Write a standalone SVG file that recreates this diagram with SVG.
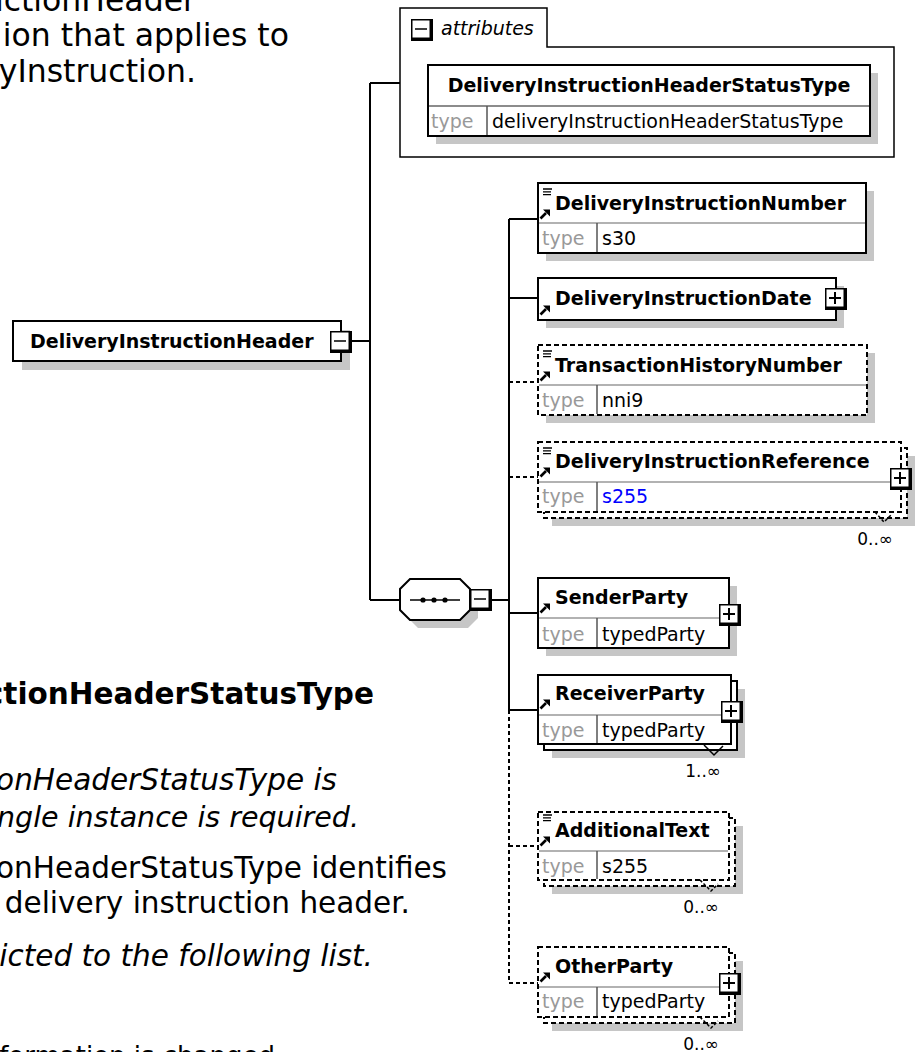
<svg xmlns="http://www.w3.org/2000/svg" xmlns:xlink="http://www.w3.org/1999/xlink" width="917" height="1052" viewBox="0 0 917 1052">
<defs>
<style>
.doc{font-family:"DejaVu Sans",Verdana,sans-serif;font-size:29.5px;fill:#000}
.top{font-size:31.5px}
.b{font-weight:bold}
.i{font-style:italic}
.t{font-family:"DejaVu Sans",Tahoma,sans-serif;font-size:19px;fill:#000}
.tb{font-family:"DejaVu Sans",Tahoma,sans-serif;font-size:19px;font-weight:bold;fill:#000}
.ti{font-family:"DejaVu Sans",Tahoma,sans-serif;font-size:19px;font-style:italic;fill:#000}
.ty{font-family:"DejaVu Sans",Tahoma,sans-serif;font-size:19px;fill:#999}
.occ{font-family:"DejaVu Sans",Tahoma,sans-serif;font-size:17px;fill:#000}
.box{fill:#fff;stroke:#000;stroke-width:2}
.dbox{fill:#fff;stroke:#000;stroke-width:2;stroke-dasharray:5 3}
.sh{fill:#c6c6c6}
.hd{stroke:#999;stroke-width:1.5}
.vd{stroke:#555;stroke-width:1.5}
.con{fill:none;stroke:#000;stroke-width:2}
.dcon{fill:none;stroke:#000;stroke-width:2;stroke-dasharray:4 3}
.v{fill:none;stroke:#000;stroke-width:1.5}
.dv{fill:none;stroke:#000;stroke-width:1.5;stroke-dasharray:3 2}
</style>
<symbol id="plus" viewBox="0 0 22 22" width="22" height="22"><rect width="22" height="22" fill="#000"/><rect x="1.5" y="1.5" width="17" height="17" fill="#fff"/><path d="M4 10H16M10 4V16" stroke="#000" stroke-width="2"/></symbol>
<symbol id="minus" viewBox="0 0 22 22" width="22" height="22"><rect width="22" height="22" fill="#000"/><rect x="1.5" y="1.5" width="17" height="17" fill="#fff"/><path d="M4 10H16" stroke="#000" stroke-width="1.5"/></symbol>
<symbol id="eq" viewBox="0 0 12 9" width="12" height="9"><path d="M2 1H11M2 3.8H10M2 6.6H10" stroke="#000" stroke-width="1.3"/></symbol>
<symbol id="arr" viewBox="0 0 12 12" width="12" height="12"><path d="M1.5 10.5L7 5" stroke="#000" stroke-width="2.6"/><polygon points="4,1.5 11,1.5 11,8.5" fill="#000"/></symbol>
</defs>
<rect width="917" height="1052" fill="#fff"/>

<g id="doc-text">
<text class="doc top" x="196" y="11" text-anchor="end">uctionHeader</text>
<text class="doc top" x="289" y="46" text-anchor="end">ion that applies to</text>
<text class="doc top" x="196" y="82" text-anchor="end">yInstruction.</text>
<text class="doc b" x="374" y="704" text-anchor="end">ctionHeaderStatusType</text>
<text class="doc i" x="337" y="790" text-anchor="end">onHeaderStatusType is</text>
<text class="doc i" x="359" y="827" text-anchor="end" style="font-size:28.5px">ngle instance is required.</text>
<text class="doc" x="447" y="878" text-anchor="end">onHeaderStatusType identifies</text>
<text class="doc" x="410" y="913" text-anchor="end">delivery instruction header.</text>
<text class="doc i" x="373" y="966" text-anchor="end">icted to the following list.</text>
<text class="doc" x="275" y="1065" text-anchor="end" style="font-size:26px">formation is changed</text>
</g>

<g id="connectors">
<path class="con" d="M352 341H370M370 83V600M370 83H400M370 600H400M492 600H509"/>
<path class="con" d="M509 219V710M509 219H538M509 298H538M509 613H538M509 710H538"/>
<path class="dcon" d="M509 710V983M509 382H538M509 477H538M509 846H538M509 983H538"/>
</g>

<g id="DeliveryInstructionHeader">
<rect class="sh" x="22" y="330" width="328" height="40"/>
<rect class="box" x="13" y="321" width="328" height="40"/>
<text class="tb" x="30" y="348">DeliveryInstructionHeader</text>
<use xlink:href="#minus" x="330" y="331" width="22" height="22"/>
</g>

<g id="attributes">
<path d="M400 157V8H547V47H894V157Z" fill="#fff" stroke="#000" stroke-width="1.5"/>
<use xlink:href="#minus" x="411" y="19" width="22" height="22"/>
<text class="ti" x="441" y="35">attributes</text>
<rect class="sh" x="436" y="73" width="442" height="71"/>
<rect class="box" x="428" y="65" width="442" height="71"/>
<line x1="429" y1="106" x2="869" y2="106" stroke="#666" stroke-width="1.5"/>
<line class="vd" x1="487" y1="106" x2="487" y2="135"/>
<text class="tb" x="649" y="92" text-anchor="middle">DeliveryInstructionHeaderStatusType</text>
<text class="ty" x="431" y="128">type</text>
<text class="t" x="492" y="128">deliveryInstructionHeaderStatusType</text>
</g>

<g id="sequence">
<polygon class="sh" points="418,587 468,587 478,597 478,618 468,628 418,628 408,618 408,597"/>
<polygon points="410,579 460,579 470,589 470,610 460,620 410,620 400,610 400,589" fill="#fff" stroke="#000" stroke-width="2"/>
<path d="M410 600H460" stroke="#000" stroke-width="1.5"/>
<circle cx="423" cy="600" r="2.6"/><circle cx="434" cy="600" r="2.6"/><circle cx="445" cy="600" r="2.6"/>
<use xlink:href="#minus" x="470" y="589" width="22" height="22"/>
</g>

<g id="DeliveryInstructionNumber">
<rect class="sh" x="546" y="191" width="328" height="70"/>
<rect class="box" x="538" y="183" width="328" height="70"/>
<line class="hd" x1="539" y1="223" x2="865" y2="223"/>
<line class="vd" x1="597" y1="223" x2="597" y2="252"/>
<use xlink:href="#eq" x="541" y="188" width="12" height="9"/>
<use xlink:href="#arr" x="539" y="208" width="12" height="12"/>
<text class="tb" x="555" y="210">DeliveryInstructionNumber</text>
<text class="ty" x="542" y="245">type</text>
<text class="t" x="602" y="245">s30</text>
</g>

<g id="DeliveryInstructionDate">
<rect class="sh" x="546" y="286" width="298" height="42"/>
<rect class="box" x="538" y="278" width="298" height="42"/>
<use xlink:href="#arr" x="539" y="304" width="12" height="12"/>
<text class="tb" x="555" y="305">DeliveryInstructionDate</text>
<use xlink:href="#plus" x="825" y="288" width="22" height="22"/>
</g>

<g id="TransactionHistoryNumber">
<rect class="sh" x="546" y="353" width="329" height="70"/>
<rect class="dbox" x="538" y="345" width="329" height="70"/>
<line class="hd" x1="539" y1="385" x2="866" y2="385"/>
<line class="vd" x1="597" y1="385" x2="597" y2="414"/>
<use xlink:href="#eq" x="541" y="350" width="12" height="9"/>
<use xlink:href="#arr" x="539" y="370" width="12" height="12"/>
<text class="tb" x="555" y="372">TransactionHistoryNumber</text>
<text class="ty" x="542" y="407">type</text>
<text class="t" x="602" y="407">nni9</text>
</g>

<g id="DeliveryInstructionReference">
<rect class="sh" x="552" y="456" width="363" height="70"/>
<rect class="dbox" x="544" y="448" width="363" height="70"/>
<rect class="dbox" x="538" y="442" width="363" height="70"/>
<line class="hd" x1="539" y1="482" x2="900" y2="482"/>
<line class="vd" x1="597" y1="482" x2="597" y2="511"/>
<use xlink:href="#eq" x="541" y="447" width="12" height="9"/>
<use xlink:href="#arr" x="539" y="466" width="12" height="12"/>
<text class="tb" x="555" y="468">DeliveryInstructionReference</text>
<text class="ty" x="542" y="503">type</text>
<text class="t" x="602" y="503" style="fill:#0000ff">s255</text>
<use xlink:href="#plus" x="890" y="468" width="22" height="22"/>
<polyline class="dv" points="875,512 884,522 892,514"/>
<text class="occ" x="893" y="545" text-anchor="end">0..∞</text>
</g>

<g id="SenderParty">
<rect class="sh" x="546" y="586" width="191" height="70"/>
<rect class="box" x="538" y="578" width="191" height="70"/>
<line class="hd" x1="539" y1="618" x2="728" y2="618"/>
<line class="vd" x1="597" y1="618" x2="597" y2="647"/>
<use xlink:href="#arr" x="539" y="602" width="12" height="12"/>
<text class="tb" x="555" y="604">SenderParty</text>
<text class="ty" x="542" y="641">type</text>
<text class="t" x="602" y="641">typedParty</text>
<use xlink:href="#plus" x="719" y="604" width="22" height="22"/>
</g>

<g id="ReceiverParty">
<rect class="sh" x="552" y="689" width="193" height="69"/>
<rect class="box" x="544" y="681" width="193" height="69"/>
<rect class="box" x="538" y="675" width="193" height="69"/>
<line class="hd" x1="539" y1="715" x2="730" y2="715"/>
<line class="vd" x1="597" y1="715" x2="597" y2="743"/>
<use xlink:href="#arr" x="539" y="698" width="12" height="12"/>
<text class="tb" x="555" y="700">ReceiverParty</text>
<text class="ty" x="542" y="737">type</text>
<text class="t" x="602" y="737">typedParty</text>
<use xlink:href="#plus" x="721" y="701" width="22" height="22"/>
<polyline class="v" points="704,745 714,755 723,746"/>
<text class="occ" x="721" y="777" text-anchor="end">1..∞</text>
</g>

<g id="AdditionalText">
<rect class="sh" x="552" y="826" width="191" height="68"/>
<rect class="dbox" x="544" y="818" width="191" height="68"/>
<rect class="dbox" x="538" y="812" width="191" height="68"/>
<line class="hd" x1="539" y1="851" x2="728" y2="851"/>
<line class="vd" x1="597" y1="851" x2="597" y2="879"/>
<use xlink:href="#eq" x="541" y="814" width="12" height="9"/>
<use xlink:href="#arr" x="539" y="835" width="12" height="12"/>
<text class="tb" x="555" y="837">AdditionalText</text>
<text class="ty" x="542" y="873">type</text>
<text class="t" x="602" y="873">s255</text>
<polyline class="dv" points="700,880 711,891 718,884"/>
<text class="occ" x="719" y="913" text-anchor="end">0..∞</text>
</g>

<g id="OtherParty">
<rect class="sh" x="552" y="961" width="191" height="70"/>
<rect class="dbox" x="544" y="953" width="191" height="70"/>
<rect class="dbox" x="538" y="947" width="191" height="70"/>
<line class="hd" x1="539" y1="987" x2="728" y2="987"/>
<line class="vd" x1="597" y1="987" x2="597" y2="1016"/>
<use xlink:href="#arr" x="539" y="971" width="12" height="12"/>
<text class="tb" x="555" y="973">OtherParty</text>
<text class="ty" x="542" y="1008">type</text>
<text class="t" x="602" y="1008">typedParty</text>
<use xlink:href="#plus" x="719" y="973" width="22" height="22"/>
<polyline class="dv" points="700,1017 711,1028 718,1021"/>
<text class="occ" x="719" y="1050" text-anchor="end">0..∞</text>
</g>
</svg>
